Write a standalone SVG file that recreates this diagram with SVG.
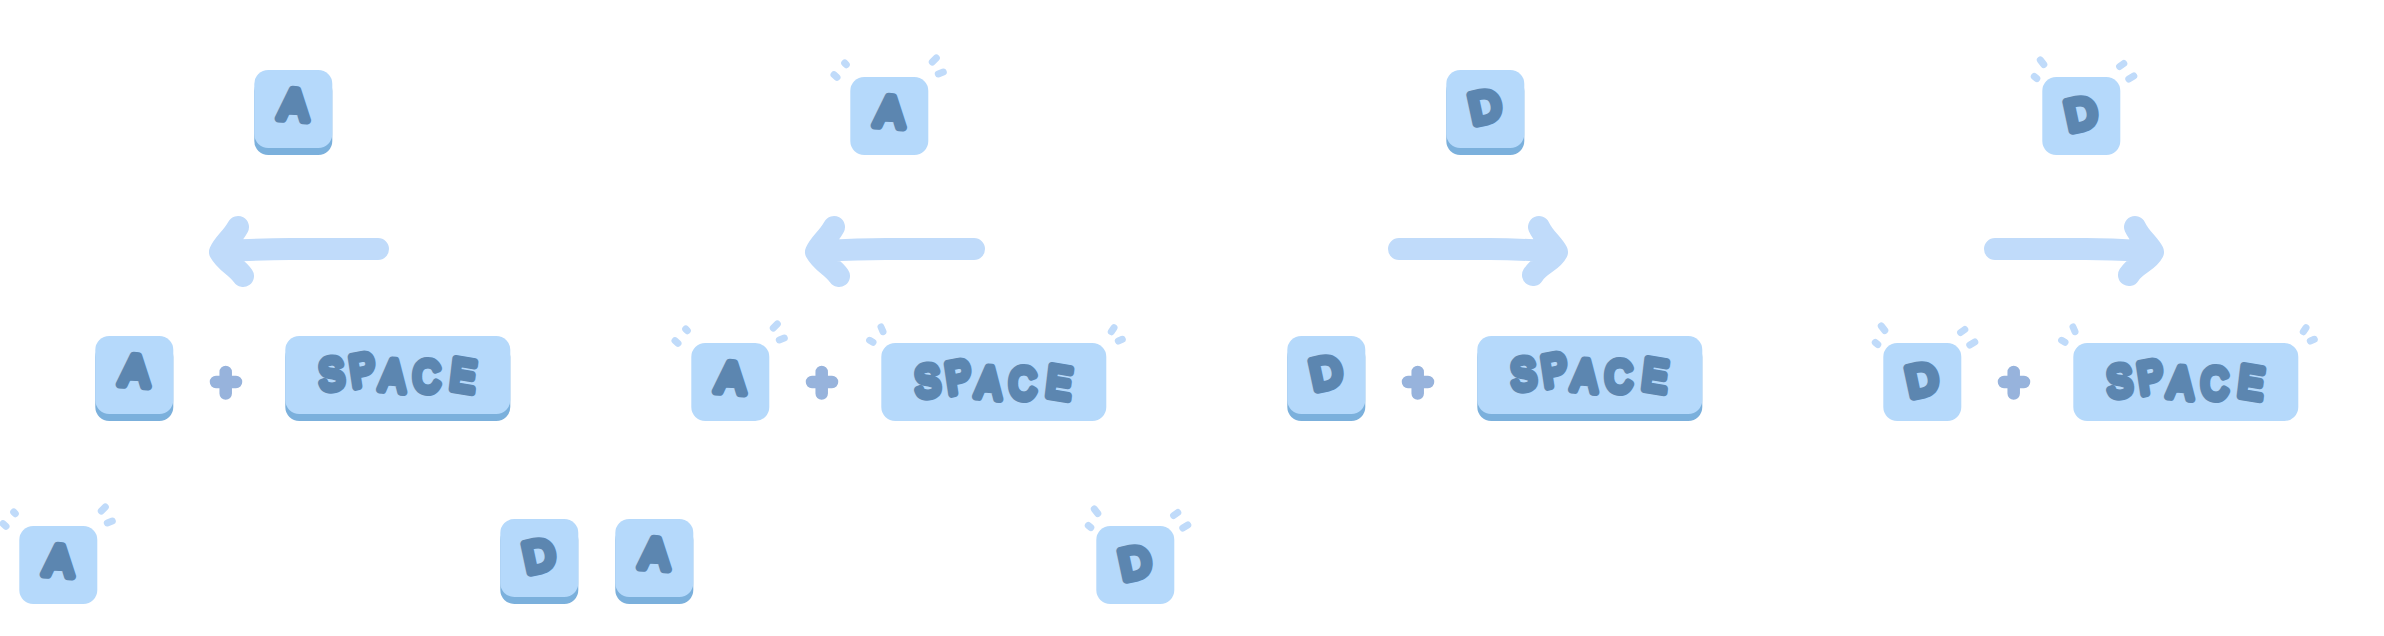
<svg xmlns="http://www.w3.org/2000/svg" width="2384" height="636" viewBox="0 0 2384 636">
<style>
.face{fill:#b5d9fb}.base{fill:#7bb0dc}
.lbl{font-family:"Liberation Sans",Arial,sans-serif;font-size:43px;fill:#5c86b0;stroke:#5c86b0;stroke-width:8;stroke-linejoin:round;stroke-linecap:round;text-anchor:middle}
.sp{stroke-width:8;font-size:44px}
.spark{fill:none;stroke:#c0dbfa;stroke-width:7;stroke-linecap:round}
.plus{fill:none;stroke:#97b3dc;stroke-width:12.5;stroke-linecap:round}
.arrow{fill:none;stroke:#c0dbfa;stroke-width:22;stroke-linecap:round;stroke-linejoin:round}
</style>
<defs>
<g id="up"><rect class="base" y="7" width="78" height="78" rx="14"/><rect class="face" width="78" height="78" rx="14"/></g>
<g id="upw"><rect class="base" y="7" width="225" height="78" rx="14"/><rect class="face" width="225" height="78" rx="14"/></g>
<g id="dn"><rect class="face" width="78" height="78" rx="14"/></g>
<g id="dnw"><rect class="face" width="225" height="78" rx="14"/></g>
<path id="sA" class="spark" d="M-16.300 -2.300L-13.300 .3M-5.600 -14L-4 -12.300M82 -15L86 -19M88 -3L93 -5"/>
<path id="sD" class="spark" d="M-8 -.5L-5.500 1.500M-2 -17L1.500 -12.500M77.300 -10.500L81.500 -13.500M86.500 2L91.500 -1"/>
<path id="sS" class="spark" d="M-11.700 -2.700L-8.300 -.7M-.3 -16L1.700 -11.300M230 -11.300L232.700 -15.300M237 -2L241 -3.700"/>
</defs>

<g id="connectors">
<g id="arrow1"><path class="arrow" d="M378 249L290 249C270 249 245 250 226 251M238 227C232 238 224 243 220 252C226 263 236 266 243 276"/></g>
<g id="arrow2"><path class="arrow" transform="translate(596 0)" d="M378 249L290 249C270 249 245 250 226 251M238 227C232 238 224 243 220 252C226 263 236 266 243 276"/></g>
<g id="arrow3"><path class="arrow" d="M1399 249L1490 249C1510 249 1530 250 1545 251M1539 227C1544 238 1553 244 1557 252C1552 262 1540 264 1533 275"/></g>
<g id="arrow4"><path class="arrow" transform="translate(596 0)" d="M1399 249L1490 249C1510 249 1530 250 1545 251M1539 227C1544 238 1553 244 1557 252C1552 262 1540 264 1533 275"/></g>
</g>

<g id="key-a-top1"><use href="#up" x="254.300" y="70"/><text class="lbl" transform="rotate(4 294 104)" x="294" y="119.500">A</text></g>
<g id="key-a-top2"><use href="#dn" x="850.300" y="77"/><use href="#sA" x="850.300" y="77"/><text class="lbl" transform="rotate(4 890 111)" x="890" y="126.500">A</text></g>
<g id="key-d-top3"><use href="#up" x="1446.300" y="70"/><text class="lbl" transform="rotate(-12 1485 106)" x="1485" y="121.500">D</text></g>
<g id="key-d-top4"><use href="#dn" x="2042.300" y="77"/><use href="#sD" x="2042.300" y="77"/><text class="lbl" transform="rotate(-12 2081 113)" x="2081" y="128.500">D</text></g>

<g id="key-a-1"><use href="#up" x="95.300" y="336"/><text class="lbl" transform="rotate(4 135 370)" x="135" y="385.500">A</text></g>
<g id="plus-1"><path class="plus" d="M225.700 372V393.500M216 382H236"/></g>
<g id="key-space-1"><use href="#upw" x="285.300" y="336"/><text class="lbl sp" transform="translate(285.300 -1) scale(.85 1)" x="55.800 93.800 125.200 166.300 207.400" y="391.500 388.500 390.500 393.500 389.500" rotate="-5 -10 5 0 8">SPACE</text></g>

<g id="key-a-2"><use href="#dn" x="691.300" y="343"/><use href="#sA" x="691.300" y="343"/><text class="lbl" transform="rotate(4 731 377)" x="731" y="392.500">A</text></g>
<g id="plus-2"><path class="plus" transform="translate(596 0)" d="M225.700 372V393.500M216 382H236"/></g>
<g id="key-space-2"><use href="#dnw" x="881.300" y="343"/><use href="#sS" x="881.300" y="343"/><text class="lbl sp" transform="translate(881.300 6) scale(.85 1)" x="55.800 93.800 125.200 166.300 207.400" y="391.500 388.500 390.500 393.500 389.500" rotate="-5 -10 5 0 8">SPACE</text></g>

<g id="key-d-3"><use href="#up" x="1287.300" y="336"/><text class="lbl" transform="rotate(-12 1326 372)" x="1326" y="387.500">D</text></g>
<g id="plus-3"><path class="plus" transform="translate(1192 0)" d="M225.700 372V393.500M216 382H236"/></g>
<g id="key-space-3"><use href="#upw" x="1477.300" y="336"/><text class="lbl sp" transform="translate(1477.300 -1) scale(.85 1)" x="55.800 93.800 125.200 166.300 207.400" y="391.500 388.500 390.500 393.500 389.500" rotate="-5 -10 5 0 8">SPACE</text></g>

<g id="key-d-4"><use href="#dn" x="1883.300" y="343"/><use href="#sD" x="1883.300" y="343"/><text class="lbl" transform="rotate(-12 1922 379)" x="1922" y="394.500">D</text></g>
<g id="plus-4"><path class="plus" transform="translate(1788 0)" d="M225.700 372V393.500M216 382H236"/></g>
<g id="key-space-4"><use href="#dnw" x="2073.300" y="343"/><use href="#sS" x="2073.300" y="343"/><text class="lbl sp" transform="translate(2073.300 6) scale(.85 1)" x="55.800 93.800 125.200 166.300 207.400" y="391.500 388.500 390.500 393.500 389.500" rotate="-5 -10 5 0 8">SPACE</text></g>

<g id="key-a-bottom1"><use href="#dn" x="19.300" y="526"/><use href="#sA" x="19.300" y="526"/><text class="lbl" transform="rotate(4 59 560)" x="59" y="575.500">A</text></g>
<g id="key-d-bottom"><use href="#up" x="500.300" y="519"/><text class="lbl" transform="rotate(-12 539 555)" x="539" y="570.500">D</text></g>
<g id="key-a-bottom2"><use href="#up" x="615.300" y="519"/><text class="lbl" transform="rotate(4 655 553)" x="655" y="568.500">A</text></g>
<g id="key-d-bottom2"><use href="#dn" x="1096.300" y="526"/><use href="#sD" x="1096.300" y="526"/><text class="lbl" transform="rotate(-12 1135 562)" x="1135" y="577.500">D</text></g>
</svg>
